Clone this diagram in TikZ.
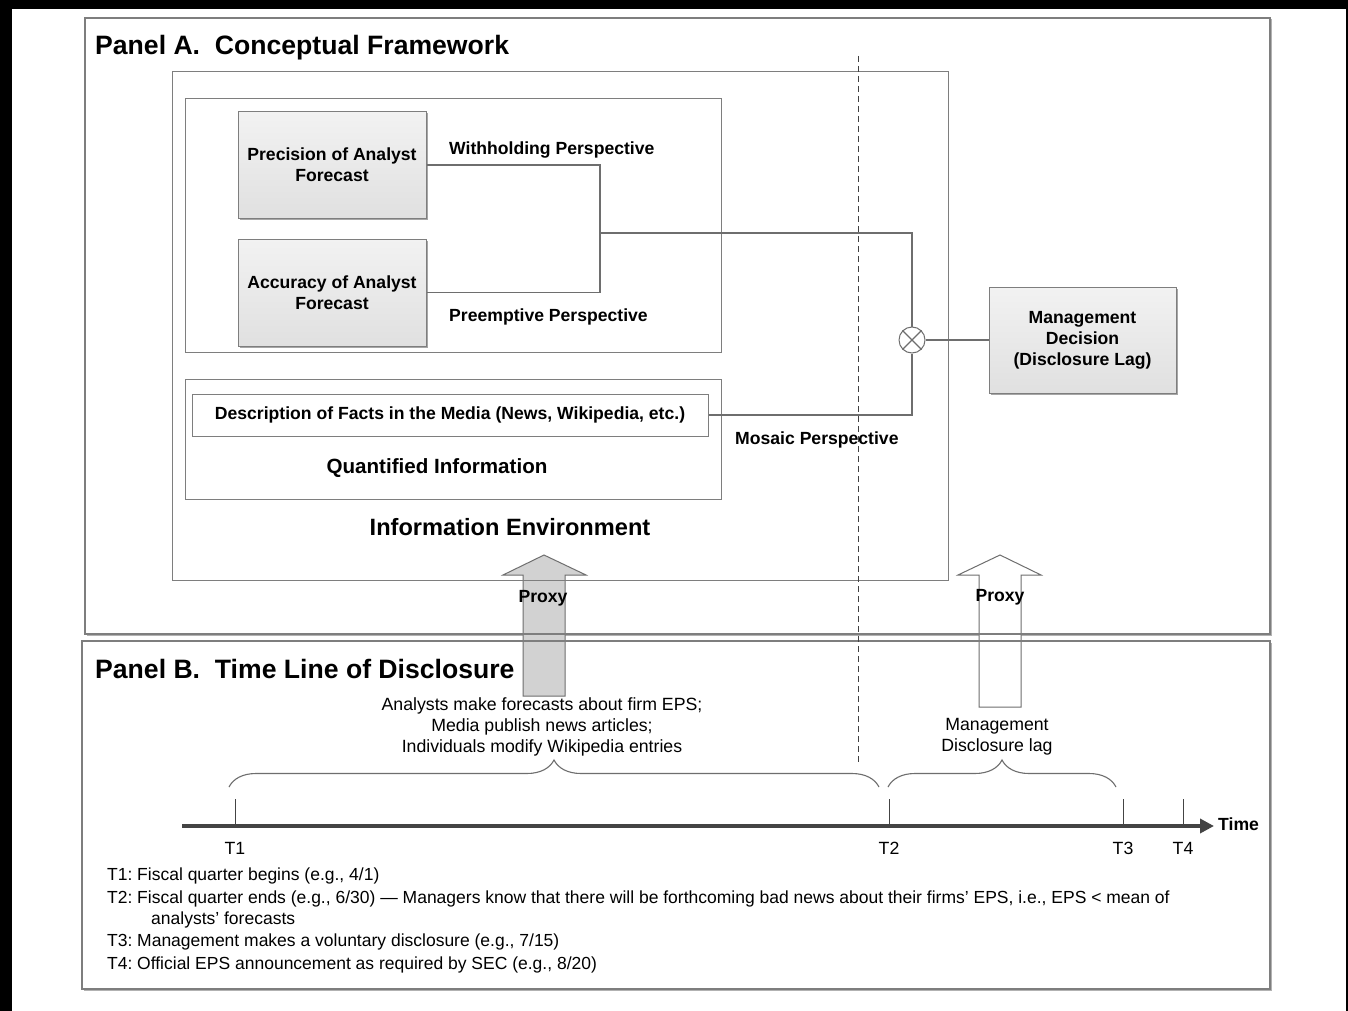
\documentclass[tikz,border=0pt]{standalone}
\usepackage{fontspec}
\setmainfont{Liberation Sans}
\usetikzlibrary{arrows.meta,shadows,decorations.pathreplacing,calc}
\definecolor{edge}{HTML}{7E7E7E}
\definecolor{conn}{HTML}{6E6E6E}
\definecolor{boxtop}{HTML}{F2F2F2}
\definecolor{boxbot}{HTML}{E0E0E0}
\definecolor{arrowgray}{HTML}{D2D2D2}
\definecolor{axisgray}{HTML}{444444}
\newcommand\fTitle{\fontsize{26.6}{31}\selectfont\bfseries}
\newcommand\fBig{\fontsize{23.6}{28}\selectfont\bfseries}
\newcommand\fMid{\fontsize{20.6}{24}\selectfont\bfseries}
\newcommand\fBold{\fontsize{17.6}{21}\selectfont\bfseries}
\newcommand\fReg{\fontsize{17.7}{21}\selectfont}
\newcommand\fNote{\fontsize{17.5}{21}\selectfont}
\begin{document}
\begin{tikzpicture}[x=1pt,y=-1pt,
  panelbox/.style={draw=edge,line width=1.3pt,fill=white,
    drop shadow={shadow xshift=1.5pt,shadow yshift=-1.5pt,fill=black!30,opacity=1}},
  panelline/.style={draw=edge,line width=1.3pt},
  framebox/.style={draw=edge,line width=1pt},
  featbox/.style={draw=edge,line width=1pt,top color=boxtop,bottom color=boxbot,
    align=center,font=\fBold,inner sep=0pt,
    drop shadow={shadow xshift=1.5pt,shadow yshift=-1.5pt,fill=black!35,opacity=1}},
  conn/.style={draw=conn,line width=1.1pt},
  lbl/.style={font=\fBold,inner sep=0pt},
  regtxt/.style={font=\fReg,align=center,inner sep=0pt},
  notetxt/.style={font=\fNote,anchor=base west,inner sep=0pt},
  bigarrow/.style={draw=conn,line width=1pt},
  tick/.style={draw=axisgray,line width=1pt},
  bracestyle/.style={draw=conn,line width=1.1pt,decorate,
    decoration={brace,amplitude=27pt,aspect=0.5}}]
\useasboundingbox (0,0) rectangle (1348,1011);
% page frame
\fill[black] (0,0) rectangle (1348,1011);
\fill[white] (12,9) rectangle (1345.5,1011);

% panels
\path[panelbox] (85,18) rectangle (1270,634);
\path[panelbox] (82,641) rectangle (1270,989);

% information environment boxes
\path[framebox] (172,72) rectangle (948,580);
\path[framebox] (185,99) rectangle (721,352);
\path[framebox] (185,379) rectangle (721,499);

% block arrows
\draw[bigarrow,fill=arrowgray] (523,696) -- (523,575) -- (503,575) -- (544,555)
  -- (586,575) -- (565,575) -- (565,696) -- cycle;
\draw[bigarrow,fill=white] (979,707) -- (979,575) -- (958,575) -- (1000,555)
  -- (1041,575) -- (1021,575) -- (1021,707) -- cycle;

% outlines over the arrows
\path[panelline] (85,18) rectangle (1270,634);
\path[panelline] (82,641) rectangle (1270,989);
\path[framebox] (172,72) rectangle (948,580);

% titles
\node[font=\fTitle,anchor=base west,inner sep=0pt] (titleA) at (95,55) {Panel A.\ \ Conceptual Framework};
\node[font=\fTitle,anchor=base west,inner sep=0pt] (titleB) at (95,678) {Panel B.\ \ Time Line of Disclosure};

% feature boxes
\node[featbox,minimum width=188pt,minimum height=106pt] (prec) at (332,165) {Precision of Analyst\\Forecast};
\node[featbox,minimum width=188pt,minimum height=107pt] (acc) at (332,292.5) {Accuracy of Analyst\\Forecast};
\node[featbox,minimum width=187pt,minimum height=106pt] (mgmt) at (1082.5,340) {Management\\Decision\\(Disclosure Lag)};
\node[framebox,fill=white,minimum width=516pt,minimum height=42pt,font=\fBold,inner sep=0pt] (media) at (450,415)
  {Description of Facts in the Media (News, Wikipedia, etc.)};
\node[draw=conn,line width=1pt,circle,minimum size=26pt,inner sep=0pt,fill=white] (mix) at (912,340) {};
\draw[conn] (mix.north west) -- (mix.south east);
\draw[conn] (mix.north east) -- (mix.south west);

% labels
\node[lbl,anchor=west] (withhold) at (449,150) {Withholding Perspective};
\node[lbl,anchor=west] (preempt) at (449,317) {Preemptive Perspective};
\node[lbl,anchor=west] (mosaic) at (735,440) {Mosaic Perspective};
\node[font=\fMid,inner sep=0pt] (quant) at (437,468) {Quantified Information};
\node[font=\fBig,inner sep=0pt] (infoenv) at (510,527) {Information Environment};
\node[lbl] (proxyA) at (543,598) {Proxy};
\node[lbl] (proxyB) at (1000,597) {Proxy};

% connectors
\coordinate (join) at (600,233);
\draw[conn] (prec.east) -| (join) |- (acc.east);
\draw[conn] (join) -| (mix.north);
\draw[conn] (media.east) -| (mix.south);
\draw[conn] (mix.east) -- (mgmt.west);

% Panel B texts
\node[regtxt] (analysts) at (542,727) {Analysts make forecasts about firm EPS;\\Media publish news articles;\\Individuals modify Wikipedia entries};
\node[regtxt] (mdl) at (997,737) {Management\\Disclosure lag};

% time line
\coordinate (axstart) at (182,826);
\coordinate (axend) at (1214,826);
\draw[draw=axisgray,line width=4pt,-{Triangle[length=14pt,width=14pt]}] (axstart) -- (axend);
\node[lbl,anchor=west] (timelbl) at (1218,824) {Time};
\coordinate (t1) at (235,826);
\coordinate (t2) at (889,826);
\coordinate (t3) at (1123,826);
\coordinate (t4) at (1183,826);
\foreach \p/\n in {t1/T1,t2/T2,t3/T3,t4/T4}{
  \draw[tick] (\p) -- ++(0,-27);
  \node[font=\fReg,inner sep=0pt] (lab\n) at ($(\p)+(0,22)$) {\n};
}
\draw[bracestyle] (229,787) -- (879,787);
\draw[bracestyle] (888,787) -- (1116,787);

% notes
\node[notetxt] (n1) at (107,880) {\makebox[30pt][l]{T1:}Fiscal quarter begins (e.g., 4/1)};
\node[notetxt] (n2) at (107,903) {\makebox[30pt][l]{T2:}Fiscal quarter ends (e.g., 6/30) — Managers know that there will be forthcoming bad news about their firms’ EPS, i.e., EPS < mean of};
\node[notetxt] (n2b) at (151,924) {analysts’ forecasts};
\node[notetxt] (n3) at (107,946) {\makebox[30pt][l]{T3:}Management makes a voluntary disclosure (e.g., 7/15)};
\node[notetxt] (n4) at (107,969) {\makebox[30pt][l]{T4:}Official EPS announcement as required by SEC (e.g., 8/20)};

% dashed divider
\draw[draw=black!75,line width=1pt,dash pattern=on 6pt off 4pt] (858,56) -- (858,762);
\end{tikzpicture}
\end{document}
